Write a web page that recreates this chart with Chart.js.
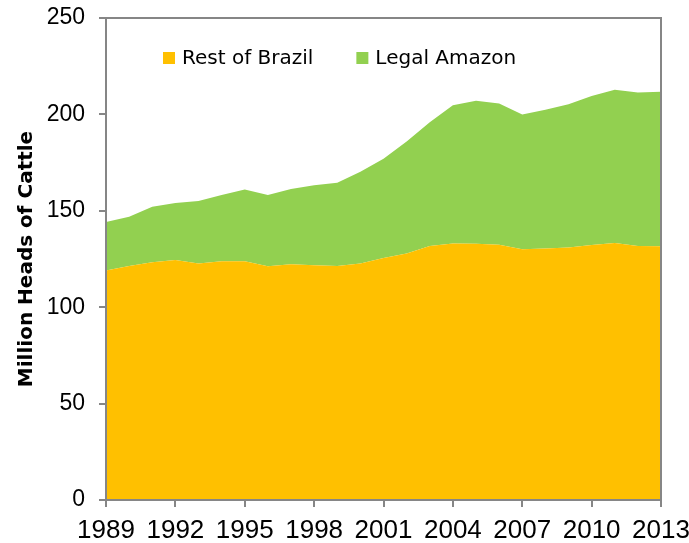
<!DOCTYPE html>
<html>
<head>
<meta charset="utf-8">
<script src="https://cdn.jsdelivr.net/npm/chart.js@4"></script>
<style>
  html, body { margin: 0; padding: 0; background: #fff; }
  #wrap { width: 689px; height: 543px; }
</style>
</head>
<body>
<div id="wrap"><canvas id="cattle"></canvas></div>
<script>
// values, million heads
const years = [1989, 1990, 1991, 1992, 1993, 1994, 1995, 1996, 1997, 1998, 1999, 2000,
               2001, 2002, 2003, 2004, 2005, 2006, 2007, 2008, 2009, 2010, 2011, 2012, 2013]
const restOfBrazil = [119.1, 121.4, 123.3, 124.5, 122.7, 123.8, 123.8, 121.2, 122.3, 121.7, 121.4, 122.7,
                      125.5, 127.9, 131.7, 133.1, 132.9, 132.4, 130.0, 130.5, 131.0, 132.3, 133.3, 131.7, 131.6]
const legalAmazon = [25.1, 25.5, 28.8, 29.5, 32.4, 34.4, 37.3, 37.0, 39.0, 41.5, 43.2, 47.6,
                     51.5, 58.0, 64.2, 71.6, 74.2, 73.3, 70.0, 71.9, 74.2, 77.2, 79.5, 79.7, 80.2]
const seriesNames = ['Rest of Brazil', 'Legal Amazon']
const seriesColors = ['#FFC000', '#92D050']

function toPoints(values) {
    return years.map((yr, i) => ({ x: yr, y: values[i] }))
}

Chart.defaults.font.family = "'Liberation Sans', Arial, sans-serif"
Chart.defaults.color = '#000'

const axisGrey = '#868686'

// box round the plot and a legend drawn inside it, top left
const frameAndLegend = {
    id: 'frameAndLegend',
    afterDraw(chart) {
        const a = chart.chartArea
        const ctx = chart.ctx
        ctx.save()
        ctx.strokeStyle = axisGrey
        ctx.lineWidth = 2
        ctx.strokeRect(a.left, a.top, a.right - a.left, a.bottom - a.top)

        ctx.font = "20px 'DejaVu Sans'"
        ctx.textBaseline = 'middle'
        let x = a.left + 57
        const y = a.top + 40
        chart.data.datasets.forEach(ds => {
            ctx.fillStyle = ds.backgroundColor
            ctx.fillRect(x, y - 6, 12, 12)
            ctx.fillStyle = '#000'
            ctx.fillText(ds.label, x + 19, y + 1)
            x += 19 + ctx.measureText(ds.label).width + 43
        })
        ctx.restore()
    }
}

new Chart(document.getElementById('cattle'), {
    type: 'line',
    data: {
        datasets: [{
            label: seriesNames[0],
            data: toPoints(restOfBrazil),
            backgroundColor: seriesColors[0],
            borderWidth: 0,
            pointRadius: 0,
            fill: 'origin'
        }, {
            label: seriesNames[1],
            data: toPoints(legalAmazon),
            backgroundColor: seriesColors[1],
            borderWidth: 0,
            pointRadius: 0,
            fill: '-1'
        }]
    },
    plugins: [frameAndLegend],
    options: {
        responsive: true,
        maintainAspectRatio: false,
        animation: false,
        layout: { padding: { top: 18, right: 28, left: 10, bottom: 0 } },
        elements: { line: { tension: 0 } },
        plugins: {
            tooltip: { enabled: false },
            legend: { display: false }
        },
        scales: {
            x: {
                type: 'linear',
                min: 1989,
                max: 2013,
                grid: { drawOnChartArea: false, tickLength: 7, color: axisGrey, lineWidth: 2 },
                border: { color: axisGrey, width: 2 },
                ticks: {
                    stepSize: 3,
                    padding: 8,
                    font: { family: "'Liberation Sans Narrow', 'Liberation Sans'", size: 26 },
                    maxRotation: 0,
                    callback: v => String(v)
                },
                afterFit: scale => {
                    scale.height = 43
                    scale.paddingRight = 0
                }
            },
            y: {
                stacked: true,
                min: 0,
                max: 250,
                grid: { drawOnChartArea: false, tickLength: 7, color: axisGrey, lineWidth: 2 },
                border: { color: axisGrey, width: 2 },
                ticks: { stepSize: 50, padding: 14, font: { size: 23 } },
                title: {
                    display: true,
                    text: 'Million Heads of Cattle',
                    font: { family: "'DejaVu Sans'", size: 20, weight: 'bold' },
                    padding: { top: 5, bottom: 0 }
                },
                afterFit: scale => {
                    scale.width = 96
                    scale.paddingTop = 0
                }
            }
        }
    }
})
</script>
</body>
</html>
